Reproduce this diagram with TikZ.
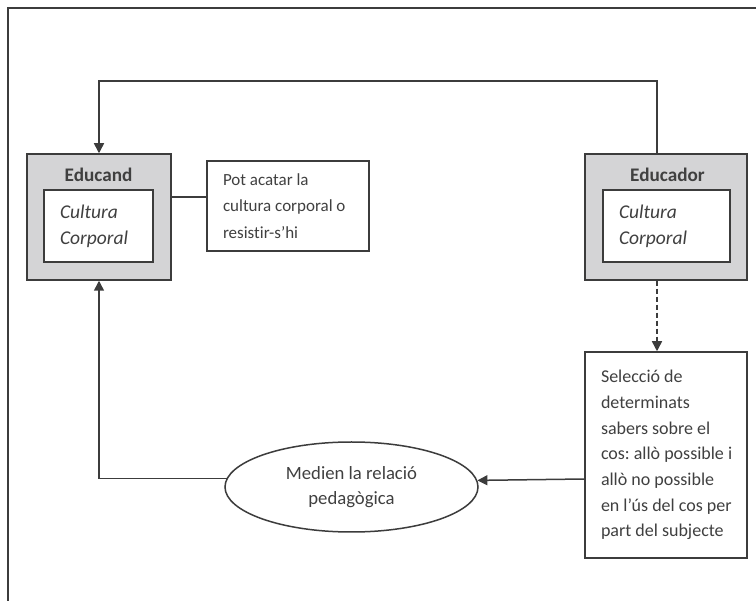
\documentclass[tikz,border=0pt]{standalone}
\usepackage{fontspec}
\setmainfont{Carlito}[Ligatures=NoCommon]
\usetikzlibrary{shapes.geometric,arrows.meta}
\definecolor{ln}{HTML}{3C3C3C}
\definecolor{gfill}{HTML}{D4D4D6}
\definecolor{tx}{HTML}{404040}
\frenchspacing
\tikzset{
  base/.style={draw=ln, line width=1.5pt, text=tx},
  outerbox/.style={base, fill=gfill, minimum width=#1, minimum height=126pt, inner sep=0pt},
  innerbox/.style={base, fill=white, text width=#1, inner xsep=16pt, inner ysep=0pt, minimum height=72pt, align=flush left, font=\fontsize{19.5}{26}\selectfont\itshape},
  textbox/.style={base, fill=white, text width=130pt, inner xsep=16pt, inner ysep=0pt, align=flush left},
  title/.style={text=tx, font=\fontsize{19.2}{22}\selectfont\bfseries, inner sep=0pt},
  conn/.style={draw=ln, line width=1.5pt},
  arr/.style={conn, -{Triangle[length=10pt,width=10pt]}},
}
\begin{document}
\begin{tikzpicture}[x=1pt,y=-1pt]
\useasboundingbox (0,0) rectangle (756,601);
\fill[white] (0,0) rectangle (756,601);
\draw[ln, line width=2pt] (8,601) -- (8,8) -- (756,8);
% Educand
\node[outerbox=144pt] (edd) at (99,217) {};
\node[title] (eddt) at (98.5,175) {Educand};
\node[innerbox=77pt] (eddi) at (98.5,226) {Cultura\\Corporal};
% Educador
\node[outerbox=162pt] (edr) at (666,217) {};
\node[title] (edrt) at (667.5,175) {Educador};
\node[innerbox=95pt] (edri) at (666.5,226) {Cultura\\Corporal};
% Pot acatar
\node[textbox, minimum height=90pt, font=\fontsize{17}{26.5}\selectfont] (pot) at (288,206) {Pot acatar la\\cultura corporal o\\resistir-s’hi};
% Seleccio
\node[textbox, text width=140pt, inner xsep=11pt, minimum width=162pt, minimum height=206pt, font=\fontsize{18}{25.7}\selectfont] (sel) at (666,455) {\hspace*{5pt}Selecció de\\\hspace*{5pt}determinats\\\hspace*{5pt}sabers sobre el\\\hspace*{5pt}cos: allò possible i\\\hspace*{5pt}allò no possible\\\hspace*{5pt}en l’ús del cos per\\\hspace*{5pt}part del subjecte\\[10pt]};
% Ellipse
\node[base, ellipse, fill=white, minimum width=253pt, minimum height=90pt, inner sep=0pt, align=center, font=\fontsize{18.7}{25}\selectfont] (ell) at (351.5,487) {Medien la relació\\pedagògica};
% connectors
\draw[conn] (edd.east |- 0,197) -- (pot.west |- 0,197);
\draw[arr] (edr.north -| 657,0) -- (657,81) -| (edd.north);
\draw[arr, dashed, dash pattern=on 5pt off 3pt] (edr.south -| 657,0) -- (sel.north -| 657,0);
\draw[arr] (sel.west |- 0,479) -- (ell.3.7);
\draw[arr] (ell.176.3) -| (edd.south);
\end{tikzpicture}
\end{document}
